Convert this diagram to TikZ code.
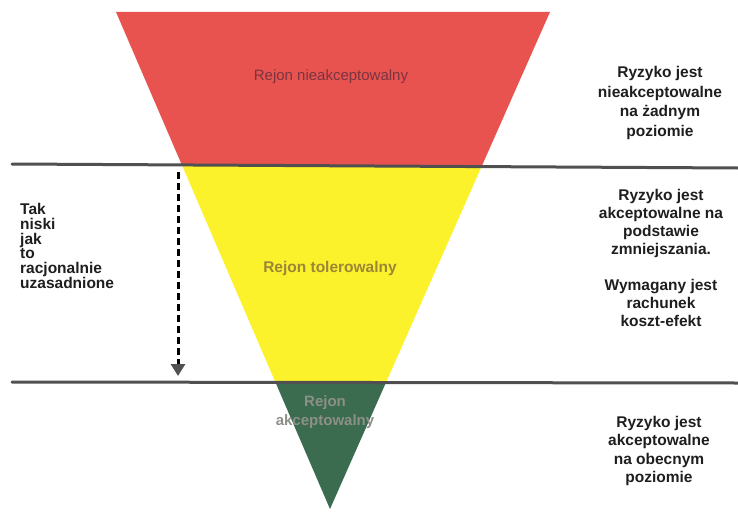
\documentclass[tikz,border=0pt]{standalone}
\usepackage{fontspec}
\setmainfont{Liberation Sans}
\usetikzlibrary{calc,arrows.meta}
\definecolor{rred}{HTML}{E9534F}
\definecolor{ryel}{HTML}{FBF22C}
\definecolor{rgrn}{HTML}{3B6C4F}
\definecolor{rline}{HTML}{505050}
\definecolor{tred}{HTML}{7A3440}
\definecolor{tyel}{HTML}{9A8636}
\definecolor{tgrn}{HTML}{8C9088}
\definecolor{tdark}{HTML}{1E1E1E}
\begin{document}
\begin{tikzpicture}[x=1pt,y=-1pt,
  sepline/.style={draw=rline,line width=3pt,line cap=round},
  descr/.style={font=\fontsize{15.5}{18.5}\selectfont\bfseries,text=tdark,align=center,inner sep=0pt},
  regionlabel/.style={align=center,inner sep=0pt},
  dasharrow/.style={draw=black,line width=3pt,dash pattern=on 7pt off 4pt,
     -{Triangle[length=12pt,width=14pt,color=rline]}}]
\useasboundingbox (0,0) rectangle (738,511);
\coordinate (tl) at (116,12);
\coordinate (tr) at (550,12);
\coordinate (ap) at (330,509);
\coordinate (l1) at ($(tl)!0.3085!(ap)$);
\coordinate (r1) at ($(tr)!0.3085!(ap)$);
\coordinate (l2) at ($(tl)!0.746!(ap)$);
\coordinate (r2) at ($(tr)!0.746!(ap)$);
\fill[rred] (tl) -- (tr) -- (r1) -- (l1) -- cycle;
\fill[ryel] (l1) -- (r1) -- (r2) -- (l2) -- cycle;
\fill[rgrn] (l2) -- (r2) -- (ap) -- cycle;
% separator lines
\coordinate (a1) at (12,164);
\coordinate (b1) at (738,168);
\coordinate (a2) at (12,382);
\coordinate (b2) at (738,383);
\draw[sepline] (a1) -- (b1);
\draw[sepline] (a2) -- (b2);
% dashed arrow
\coordinate (as) at (178,172);
\coordinate (ae) at (178,376);
\draw[dasharrow] (as) -- (ae);
% region labels
\node[regionlabel,text=tred,font=\fontsize{15}{18}\selectfont] (rn) at (331,77) {Rejon nieakceptowalny};
\node[regionlabel,text=tyel,font=\fontsize{15.5}{18}\selectfont\bfseries] (rt) at (330,268) {Rejon tolerowalny};
\node[regionlabel,text=tgrn,font=\fontsize{15}{19}\selectfont\bfseries] (ra) at (325,412) {Rejon\\akceptowalny};
% left text
\node[descr,anchor=west,align=left,font=\fontsize{15.5}{14.7}\selectfont\bfseries] (left) at (20,246)
  {Tak\\niski\\jak\\to\\racjonalnie\\uzasadnione};
% right column
\node[descr,font=\fontsize{15.5}{19.5}\selectfont\bfseries] (d1) at (660,103)
  {Ryzyko jest\\nieakceptowalne\\na żadnym\\poziomie};
\node[descr,font=\fontsize{15.5}{18}\selectfont\bfseries] (d2) at (661,258)
  {Ryzyko jest\\akceptowalne na\\podstawie\\zmniejszania.\\[18pt]Wymagany jest\\rachunek\\koszt-efekt};
\node[descr] (d3) at (659,451)
  {Ryzyko jest\\akceptowalne\\na obecnym\\poziomie};
\end{tikzpicture}
\end{document}
